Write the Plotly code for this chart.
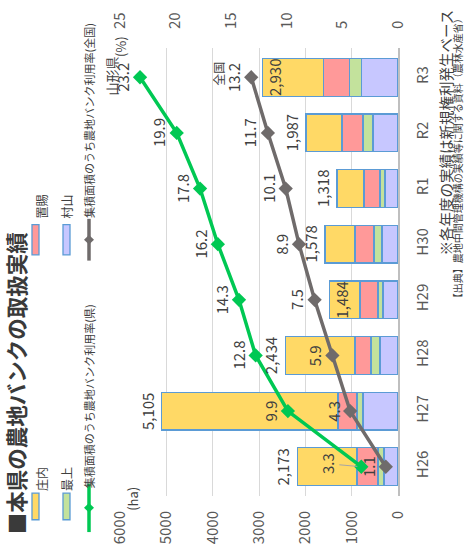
import plotly.graph_objects as go

# ---------------- data ----------------
years = ["H26", "H27", "H28", "H29", "H30", "R1", "R2", "R3"]
murayama = [300, 755, 390, 325, 345, 280, 540, 790]
mogami = [130, 130, 195, 108, 170, 110, 215, 260]
okitama = [455, 410, 345, 390, 410, 345, 455, 560]
shonai = [1288, 3810, 1504, 661, 653, 583, 777, 1320]
totals = [2173, 5105, 2434, 1484, 1578, 1318, 1987, 2930]
rate_pref = [3.3, 9.9, 12.8, 14.3, 16.2, 17.8, 19.9, 23.2]
rate_nat = [1.1, 4.3, 5.9, 7.5, 8.9, 10.1, 11.7, 13.2]
ha_ticks = [0, 1000, 2000, 3000, 4000, 5000, 6000]
pct_ticks = [0, 5, 10, 15, 20, 25]

# ---------------- style ----------------
FONT = "Noto Sans CJK JP"
TXT = "#404040"
BORDER = "#5B9BD5"
C_SHONAI = "#FFD966"
C_OKITAMA = "#FF9999"
C_MOGAMI = "#C3E29C"
C_MURAYAMA = "#C7C7FF"
C_PREF = "#00C853"
C_NAT = "#6F6B6B"

W, H = 466, 556
L, R, T, B = 120, 398, 33, 505


def px(x):
    return (x - L) / (R - L)


def py(y):
    return (B - y) / (B - T)


fig = go.Figure()
for name, vals, col in [("村山", murayama, C_MURAYAMA), ("最上", mogami, C_MOGAMI),
                        ("置賜", okitama, C_OKITAMA), ("庄内", shonai, C_SHONAI)]:
    fig.add_trace(go.Bar(y=years, x=vals, orientation="h", name=name, width=0.68,
                         marker=dict(color=col, line=dict(color=BORDER, width=1.3)),
                         hoverinfo="skip"))

fig.add_trace(go.Scatter(y=years, x=rate_nat, xaxis="x2", mode="lines+markers",
                         line=dict(color=C_NAT, width=3.5),
                         marker=dict(symbol="diamond", size=11, color=C_NAT),
                         name="全国"))
fig.add_trace(go.Scatter(y=years, x=rate_pref, xaxis="x2", mode="lines+markers",
                         line=dict(color=C_PREF, width=3.5),
                         marker=dict(symbol="diamond", size=11, color=C_PREF),
                         name="県"))

ann = []
# total labels
inside = {"H29", "R3"}
for yv, t in zip(years, totals):
    if yv in inside:
        ann.append(dict(x=t, y=yv, xref="x", yref="y", text=f"{t:,}", textangle=-90,
                        showarrow=False, xanchor="left", xshift=0,
                        font=dict(size=15, color=TXT, family=FONT)))
    else:
        ann.append(dict(x=t, y=yv, xref="x", yref="y", text=f"{t:,}", textangle=-90,
                        showarrow=False, xanchor="right", xshift=-2,
                        font=dict(size=15, color=TXT, family=FONT)))

# line labels
for i, (yv, v) in enumerate(zip(years, rate_pref)):
    if i == 0:
        ann.append(dict(x=v, y=yv, xref="x2", yref="y", text=f"{v}", textangle=-90,
                        showarrow=True, ax=-34, ay=-3, arrowhead=0, arrowwidth=1,
                        arrowcolor="#A6A6A6", standoff=4,
                        font=dict(size=15, color=TXT, family=FONT)))
    else:
        ann.append(dict(x=v, y=yv, xref="x2", yref="y", text=f"{v}", textangle=-90,
                        showarrow=False, xanchor="right", xshift=-5,
                        font=dict(size=15, color=TXT, family=FONT)))
for yv, v in zip(years, rate_nat):
    ann.append(dict(x=v, y=yv, xref="x2", yref="y", text=f"{v}", textangle=-90,
                    showarrow=False, xanchor="right", xshift=-5,
                    font=dict(size=15, color=TXT, family=FONT)))


def txt(x, y, s, size, color=TXT, bold=False, xa="center", ya="middle"):
    if bold:
        s = f"<b>{s}</b>"
    ann.append(dict(x=px(x), y=py(y), xref="paper", yref="paper", text=s, textangle=-90,
                    showarrow=False, xanchor=xa, yanchor=ya,
                    font=dict(size=size, color=color, family=FONT)))


txt(15, 548, "■本県の農地バンクの取扱実績", 21.5, color="#3A3A3A", bold=True, ya="bottom")
txt(111, 63, "山形県", 13)
txt(219, 60, "全国", 12)
txt(120, 32, "(%)", 13)
txt(133, 508, "(ha)", 13)
txt(445, 122, "※各年度の実績は新規権利発生ベース", 14.5)
txt(457, 304, "【出典】農地中間管理機構の実績等に関する資料（農林水産省）", 10, ya="bottom")

# legend
shapes = []


def swatch(x0, x1, y0, y1, col):
    shapes.append(dict(type="rect", xref="paper", yref="paper", x0=px(x0), x1=px(x1),
                       y0=py(y1), y1=py(y0), fillcolor=col,
                       line=dict(color=BORDER, width=1.3)))


swatch(32, 39, 502, 530, C_SHONAI)
swatch(63, 70, 502, 530, C_MOGAMI)
swatch(32, 39, 219, 251, C_OKITAMA)
swatch(63, 70, 219, 251, C_MURAYAMA)
txt(42, 487, "庄内", 12)
txt(67, 487, "最上", 12)
txt(42, 200, "置賜", 12)
txt(67, 200, "村山", 12)

for (y0, y1, col) in [(492, 543, C_PREF), (213, 257, C_NAT)]:
    shapes.append(dict(type="line", xref="paper", yref="paper", x0=px(89), x1=px(89),
                       y0=py(y0), y1=py(y1), line=dict(color=col, width=3.5)))
    ym = (y0 + y1) / 2
    shapes.append(dict(type="path", xref="paper", yref="paper",
                       path=f"M {px(84)},{py(ym)} L {px(89)},{py(ym-5)} L {px(94)},{py(ym)} L {px(89)},{py(ym+5)} Z",
                       fillcolor=col, line=dict(color=col, width=0)))
txt(89, 400, "集積面積のうち農地バンク利用率(県)", 11)
txt(89, 110, "集積面積のうち農地バンク利用率(全国)", 11)

fig.update_layout(
    width=W, height=H, autosize=False,
    margin=dict(l=L, r=W - R, t=T, b=H - B, pad=0),
    paper_bgcolor="white", plot_bgcolor="white",
    barmode="stack", bargap=0.32, showlegend=False,
    font=dict(family=FONT, color="#595959"),
    xaxis=dict(range=[6000, 0], tickvals=ha_ticks, tickangle=-90, showgrid=True,
               gridcolor="#D9D9D9", gridwidth=1, zeroline=False, showline=False,
               ticks="", ticklabelstandoff=11, tickfont=dict(size=15, color="#595959")),
    xaxis2=dict(range=[25, 0], tickvals=pct_ticks, tickangle=-90, overlaying="x",
                side="top", showgrid=False, zeroline=False, showline=False, ticks="",
                ticklabelstandoff=18, tickfont=dict(size=15, color="#595959")),
    yaxis=dict(type="category", side="right", tickangle=-90, showline=True,
               linecolor="#BFBFBF", linewidth=1.5, ticks="", ticklabelstandoff=10,
               showgrid=False, tickfont=dict(size=15, color="#595959")),
    annotations=ann, shapes=shapes,
)

fig.write_html("out.html")
